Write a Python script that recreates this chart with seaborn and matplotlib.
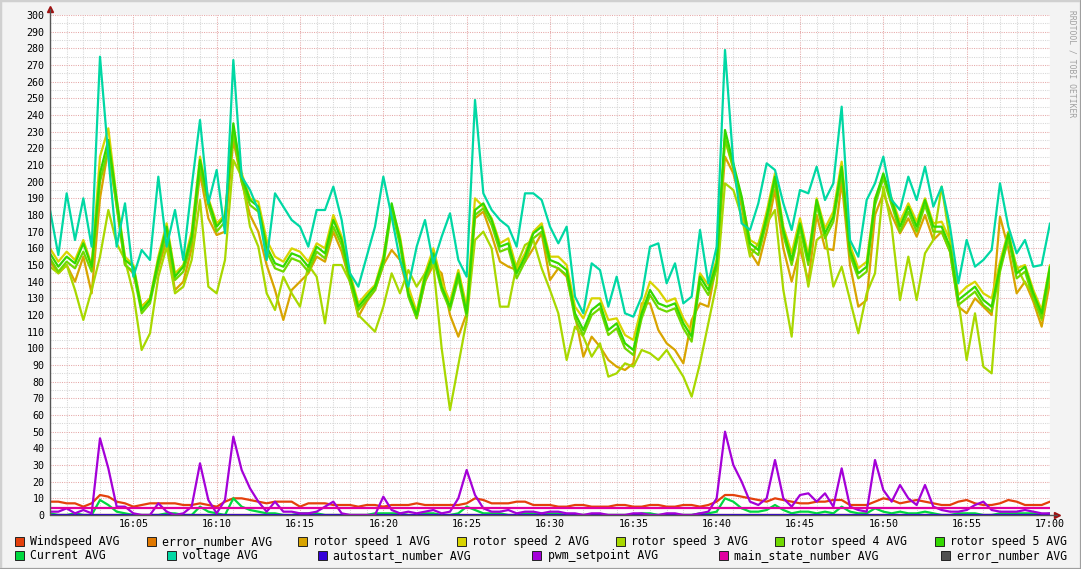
"""
RRDtool style chart of the wind turbine averages between 16:00 and 17:00,
redrawn with seaborn / matplotlib.
"""
import numpy as np
import pandas as pd
import matplotlib
matplotlib.use("Agg")
from matplotlib import pyplot as plt
from matplotlib.patches import Rectangle
from matplotlib.lines import Line2D
import seaborn as sns

# sample times: minutes after 16:00, one sample every 30 s
minutes = np.arange(0, 60.5, 0.5)

voltage = [183, 156, 193, 165, 190, 161, 275, 215, 161, 187, 143, 159, 153, 203, 161, 183,
           153, 197, 237, 187, 207, 169, 273, 203, 195, 183, 153, 193, 185, 177, 173,
           161, 183, 183, 197, 177, 145, 137, 155, 173, 203, 179, 153, 137, 161, 177,
           151, 167, 181, 153, 143, 249, 193, 183, 177, 173, 161, 193, 193, 189, 173,
           163, 173, 131, 121, 151, 147, 125, 143, 121, 119, 131, 161, 163, 139, 151,
           127, 131, 171, 139, 161, 279, 211, 175, 171, 187, 211, 207, 187, 171, 195,
           193, 209, 189, 199, 245, 165, 155, 189, 199, 215, 189, 183, 203, 189, 209,
           185, 197, 173, 139, 165, 149, 153, 159, 199, 173, 157, 165, 149, 150, 175]

rotor5 = [157, 149, 155, 151, 163, 149, 205, 225, 189, 153, 149, 123, 129, 153, 173, 143,
          149, 167, 213, 189, 173, 179, 235, 203, 189, 185, 161, 151, 149, 157, 155,
          149, 161, 157, 177, 165, 143, 125, 131, 137, 153, 187, 165, 133, 120, 143,
          157, 137, 125, 145, 121, 183, 187, 177, 161, 163, 145, 155, 169, 173, 153,
          151, 147, 121, 111, 123, 127, 111, 115, 103, 99, 121, 135, 127, 125, 127,
          115, 107, 143, 135, 151, 231, 211, 191, 163, 159, 179, 203, 171, 153, 175,
          153, 189, 169, 179, 209, 159, 145, 149, 189, 205, 189, 173, 185, 173, 189,
          173, 173, 161, 129, 133, 137, 129, 125, 149, 169, 145, 149, 133, 121, 149]

rotor4 = [154, 146, 152, 148, 158, 146, 200, 220, 186, 150, 146, 121, 127, 150, 170, 141,
          146, 164, 208, 186, 170, 176, 230, 200, 186, 182, 158, 148, 146, 154, 152,
          146, 158, 154, 173, 162, 140, 123, 129, 135, 150, 183, 162, 131, 118, 140,
          154, 135, 123, 142, 119, 180, 184, 174, 158, 160, 142, 152, 166, 170, 150,
          148, 144, 118, 108, 120, 124, 108, 112, 100, 96, 118, 132, 124, 122, 124,
          112, 104, 140, 132, 148, 226, 208, 188, 160, 156, 176, 200, 168, 150, 172,
          150, 186, 166, 176, 205, 156, 142, 146, 186, 202, 186, 170, 182, 170, 186,
          170, 170, 158, 126, 130, 134, 126, 122, 146, 166, 142, 146, 130, 118, 146]

rotor3 = [149, 145, 150, 135, 117, 135, 155, 183, 163, 153, 133, 99, 109, 143, 161, 133,
          137, 153, 189, 137, 133, 153, 213, 203, 173, 161, 133, 123, 143, 133, 125,
          150, 143, 115, 150, 150, 140, 120, 115, 110, 125, 145, 133, 147, 137, 145,
          150, 100, 63, 90, 117, 165, 170, 160, 125, 125, 150, 162, 165, 148, 135,
          121, 93, 113, 107, 95, 103, 83, 85, 91, 89, 99, 97, 93, 99, 91,
          83, 71, 91, 115, 139, 199, 195, 179, 155, 163, 175, 183, 135, 107, 167,
          137, 165, 169, 137, 149, 129, 109, 133, 145, 197, 173, 129, 155, 129, 157,
          165, 197, 165, 129, 93, 121, 89, 85, 149, 165, 149, 139, 133, 117, 145]

rotor2 = [160, 152, 158, 153, 165, 150, 215, 232, 190, 155, 150, 125, 130, 155, 175, 145,
          150, 170, 215, 190, 175, 180, 232, 205, 190, 188, 165, 155, 152, 160, 158,
          152, 163, 160, 180, 167, 145, 127, 133, 138, 155, 185, 167, 137, 122, 145,
          160, 140, 128, 147, 125, 190, 185, 178, 163, 166, 148, 157, 170, 175, 155,
          155, 150, 125, 118, 130, 130, 117, 118, 108, 105, 125, 140, 135, 128, 130,
          118, 110, 145, 138, 153, 225, 208, 190, 165, 162, 182, 205, 173, 157, 178,
          156, 190, 172, 182, 212, 162, 148, 152, 190, 203, 190, 176, 187, 176, 190,
          175, 176, 165, 132, 137, 140, 133, 130, 152, 170, 148, 150, 135, 123, 150]

rotor1 = [152, 145, 150, 140, 155, 133, 190, 220, 185, 150, 145, 125, 130, 148, 165, 135,
          140, 160, 205, 178, 168, 170, 225, 200, 180, 170, 150, 135, 117, 135, 140,
          145, 155, 152, 170, 158, 140, 119, 128, 135, 150, 159, 153, 133, 118, 140,
          150, 145, 120, 107, 121, 178, 182, 168, 152, 149, 147, 152, 160, 169, 141,
          148, 143, 120, 95, 107, 101, 93, 89, 87, 91, 127, 127, 111, 103, 99,
          91, 117, 127, 125, 151, 215, 205, 185, 158, 150, 170, 195, 160, 140, 160,
          140, 180, 160, 159, 200, 150, 125, 129, 180, 193, 180, 169, 178, 167, 180,
          165, 170, 158, 125, 121, 130, 125, 120, 179, 160, 133, 140, 128, 113, 140]

windspeed = [8, 8, 7, 7, 5, 7, 12, 11, 8, 7, 5, 6, 7, 7, 7, 7,
             6, 6, 7, 6, 5, 8, 10, 10, 9, 8, 7, 8, 8, 8, 5,
             7, 7, 7, 6, 6, 6, 5, 6, 6, 5, 6, 6, 6, 7, 6,
             6, 6, 6, 6, 7, 10, 9, 7, 7, 7, 8, 8, 6, 6, 6,
             5, 5, 6, 6, 5, 5, 5, 6, 6, 5, 5, 6, 6, 5, 5,
             6, 6, 5, 6, 8, 12, 12, 11, 10, 9, 8, 10, 9, 8, 7,
             7, 8, 8, 9, 9, 6, 6, 6, 8, 10, 9, 7, 8, 9, 8,
             7, 6, 6, 8, 9, 7, 6, 6, 7, 9, 8, 6, 6, 6, 8]

pwm_setpoint = [2, 2, 4, 1, 3, 1, 46, 28, 5, 5, 1, 0, 0, 7, 2, 0,
                1, 5, 31, 9, 1, 9, 47, 27, 16, 8, 2, 8, 2, 2, 1,
                1, 2, 5, 8, 1, 0, 0, 0, 0, 11, 3, 1, 2, 1, 2,
                3, 1, 2, 10, 27, 12, 4, 2, 2, 3, 1, 2, 2, 1, 2,
                2, 1, 1, 0, 1, 1, 0, 0, 0, 1, 1, 0, 0, 1, 1,
                0, 0, 1, 2, 10, 50, 30, 20, 8, 6, 10, 33, 10, 5, 12,
                13, 8, 13, 5, 28, 5, 3, 2, 33, 15, 8, 18, 10, 6, 18,
                5, 3, 2, 2, 3, 6, 8, 3, 2, 2, 2, 3, 2, 1, 1]

current = [1, 0, 0, 1, 0, 0, 9, 6, 2, 1, 0, 0, 0, 0, 1, 1,
           0, 0, 5, 2, 1, 0, 10, 5, 3, 2, 1, 1, 0, 0, 1,
           1, 1, 0, 0, 0, 0, 0, 0, 1, 1, 1, 1, 0, 0, 1,
           1, 0, 0, 1, 5, 3, 1, 1, 1, 0, 0, 1, 1, 1, 1,
           1, 0, 0, 0, 0, 0, 0, 0, 0, 0, 1, 1, 0, 0, 0,
           0, 0, 1, 1, 2, 10, 8, 4, 2, 2, 3, 6, 3, 1, 2,
           2, 1, 2, 1, 5, 2, 1, 1, 4, 2, 1, 2, 1, 1, 2,
           1, 0, 0, 1, 1, 1, 0, 0, 1, 1, 1, 1, 1, 0, 1]

# flat series (start and end of the hour)
flat_minutes = [0.0, 60.0]
main_state_number = [4.0, 4.0]
autostart_number = [0.0, 0.0]
error_number = [0.0, 0.0]

legend_names = ["Windspeed AVG", "error_number AVG", "rotor speed 1 AVG",
                "rotor speed 2 AVG", "rotor speed 3 AVG", "rotor speed 4 AVG",
                "rotor speed 5 AVG", "Current AVG", "voltage AVG",
                "autostart_number AVG", "pwm_setpoint AVG",
                "main_state_number AVG", "error_number AVG"]
colors = ["#e4400c", "#e07800", "#d8a400", "#d8d400", "#a8d800", "#70d800",
          "#34d800", "#00d840", "#00d8a4", "#3400d8", "#a400d8", "#e000a0",
          "#505050"]

x_labels = ["16:05", "16:10", "16:15", "16:20", "16:25", "16:30",
            "16:35", "16:40", "16:45", "16:50", "16:55", "17:00"]

sns.set_style("white")
plt.rcParams["font.family"] = ["DejaVu Sans Mono"]

W, H = 1081, 569
fig = plt.figure(figsize=(W / 100, H / 100), dpi=100, facecolor="#f3f3f3")
ax = fig.add_axes([50 / W, 54 / H, 1000 / W, 500 / H])
ax.set_facecolor("white")

# draw in legend order, later series on top
series = [
    (minutes, windspeed, colors[0]),
    (flat_minutes, error_number, colors[1]),
    (minutes, rotor1, colors[2]),
    (minutes, rotor2, colors[3]),
    (minutes, rotor3, colors[4]),
    (minutes, rotor4, colors[5]),
    (minutes, rotor5, colors[6]),
    (minutes, current, colors[7]),
    (minutes, voltage, colors[8]),
    (flat_minutes, autostart_number, colors[9]),
    (minutes, pwm_setpoint, colors[10]),
    (flat_minutes, main_state_number, colors[11]),
]
for i, (xs, ys, c) in enumerate(series):
    df = pd.DataFrame({"t": xs, "v": ys})
    sns.lineplot(data=df, x="t", y="v", color=c, linewidth=1.6, ax=ax,
                 legend=False, zorder=2 + i * 0.01)

ax.set_xlabel("")
ax.set_ylabel("")
ax.set_xlim(0, 60)
ax.set_ylim(0, 300)
ax.set_xticks(range(5, 61, 5))
ax.set_xticklabels(x_labels)
ax.set_xticks(range(0, 61), minor=True)
ax.set_yticks(range(0, 301, 10))
ax.set_yticks(range(0, 301, 5), minor=True)
ax.tick_params(which="both", length=0, labelsize=7.2, colors="black")
ax.tick_params(axis="y", pad=4)
ax.tick_params(axis="x", pad=3)

ax.set_axisbelow(True)
ax.grid(which="minor", color="#d6d6d6", linestyle=(0, (1, 1.2)), linewidth=0.75)
ax.grid(which="major", color="#e6a8a8", linestyle=(0, (1, 1.2)), linewidth=0.75)
for s in ax.spines.values():
    s.set_visible(False)

# axis lines with the rrdtool arrows
ax.add_line(Line2D([0, 0], [0, 1.012], transform=ax.transAxes, color="#555555",
                   lw=1, clip_on=False, zorder=5))
ax.add_line(Line2D([0, 1.007], [0, 0], transform=ax.transAxes, color="#555555",
                   lw=1, clip_on=False, zorder=5))
ax.plot([0], [1.012], marker="^", ms=4, color="#a01010", transform=ax.transAxes,
        clip_on=False)
ax.plot([1.007], [0], marker=">", ms=4, color="#a01010", transform=ax.transAxes,
        clip_on=False)

# legend, two justified rows
row1 = [(15, 30), (147, 162), (298, 313), (457, 472), (616, 631), (775, 790), (935, 950)]
row2 = [(15, 30), (167, 182), (318, 333), (532, 548), (719, 734), (941, 957)]
slots = [(sq, tx, 537) for sq, tx in row1] + [(sq, tx, 551) for sq, tx in row2]
for (sq, tx, top), name, c in zip(slots, legend_names, colors):
    fig.add_artist(Rectangle((sq / W, 1 - (top + 9) / H), 9 / W, 9 / H,
                             transform=fig.transFigure, facecolor=c,
                             edgecolor="#222222", lw=0.7))
    fig.text(tx / W, 1 - (top + 4.5) / H, name, fontsize=8.3, va="center",
             ha="left", color="black")

fig.text(1072 / W, 1 - 10 / H, "RRDTOOL / TOBI OETIKER", rotation=270,
         fontsize=5.8, color="#a0a0a0", ha="center", va="top")

# frame around the canvas
fig.add_artist(Rectangle((0, 0), 1, 1, transform=fig.transFigure, fill=False,
                         edgecolor="#d0d0d0", lw=2.5))
fig.add_artist(Line2D([0, 1], [0.5 / H, 0.5 / H], transform=fig.transFigure,
                      color="#9a9a9a", lw=2))
fig.add_artist(Line2D([1 - 0.5 / W, 1 - 0.5 / W], [0, 1], transform=fig.transFigure,
                      color="#9a9a9a", lw=2))

fig.savefig("out.png", dpi=100, facecolor=fig.get_facecolor())
